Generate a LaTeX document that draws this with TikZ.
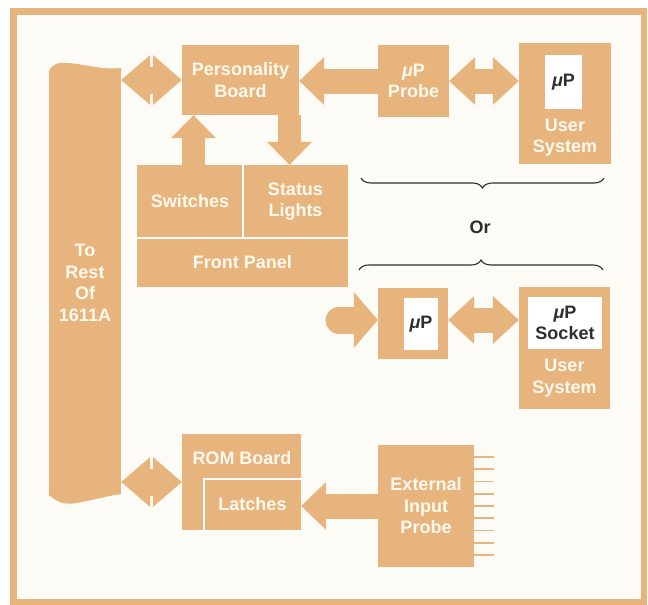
\documentclass[tikz,border=0pt]{standalone}
\usepackage{fontspec}
\setmainfont{Liberation Sans}
\usepackage{tikz}
\usetikzlibrary{arrows.meta}
\usetikzlibrary{decorations.pathreplacing}

\definecolor{boardtan}{RGB}{232,180,126}
\definecolor{paper}{RGB}{253,251,245}
\definecolor{labelwhite}{RGB}{255,249,238}
\definecolor{ink}{RGB}{46,46,46}

\begin{document}
\begin{tikzpicture}[
            x=1pt, y=-1pt,
            block/.style={
                fill=boardtan,
                text=labelwhite,
                font=\bfseries\fontsize{18}{21.5}\selectfont,
                align=center,
                inner sep=0pt
            },
            chip/.style={
                fill=white,
                text=ink,
                font=\bfseries\fontsize{18}{21.5}\selectfont,
                align=center,
                inner sep=0pt
            },
            caption/.style={
                text=labelwhite,
                font=\bfseries\fontsize{18}{21.5}\selectfont,
                align=center,
                inner sep=0pt
            },
            divider/.style={draw=white, line width=2pt},
            leadwire/.style={draw=boardtan, line width=1.8pt},
            fat/.style={draw=boardtan, line width=25pt},
            onehead/.style={fat, -{Triangle[width=48pt, length=25pt, line width=0pt]}},
            twohead/.style={fat, {Triangle[width=48pt, length=26pt, line width=0pt]}-{Triangle[width=48pt, length=26pt, line width=0pt]}},
            bushead/.style={draw=boardtan, line width=27pt, {Triangle[width=50pt, length=29pt, line width=0pt]}-{Triangle[width=50pt, length=29pt, line width=0pt]}},
            panelhead/.style={draw=boardtan, line width=23pt, -{Triangle[width=45pt, length=23pt, line width=0pt]}},
            feedhead/.style={draw=boardtan, line width=27pt, line cap=round, -{Triangle[width=56pt, length=24pt, line width=0pt]}},
            orbrace/.style={draw=ink, line width=1.1pt, decorate, decoration={brace, amplitude=10pt}}
        ]

        \useasboundingbox[fill=white] (0,0) rectangle (648,605);
        \filldraw[fill=paper, draw=boardtan, line width=6.5pt] (13.5,11.5) rectangle (644,602.5);

        \node[block, minimum width=72pt, minimum height=422pt] (bus) at (85,283) {To\\Rest\\Of\\1611A};
        \fill[boardtan] (bus.north west) .. controls (52,64) and (58,62) .. (68,63)
            .. controls (85,64) and (100,70) .. (121,68) -- (bus.north east) -- cycle;
        \fill[boardtan] (bus.south west) -- (49,495) .. controls (58,503) and (66,505) .. (76,503)
            .. controls (95,500) and (110,495) .. (bus.south east) -- cycle;

        \node[block, minimum width=117pt, minimum height=70pt] (pb) at (240.5,80) {Personality\\Board};
        \node[block, minimum width=71pt, minimum height=72pt] (probe) at (413.5,81) {{\itshape μ}P\\Probe};

        \node[block, minimum width=92pt, minimum height=121pt] (us1) at (565,103.5) {};
        \node[chip, minimum width=37pt, minimum height=54pt] (us1chip) at (563.5,82) {{\itshape μ}P};
        \node[caption] (us1label) at (565,137.5) {User\\System};

        \node[block, minimum width=106pt, minimum height=73pt] (sw) at (190,201.5) {Switches};
        \node[block, minimum width=105pt, minimum height=73pt] (st) at (295.5,201.5) {Status\\Lights};
        \node[block, minimum width=211pt, minimum height=49pt] (fpl) at (242.5,262.5) {Front Panel};
        \draw[divider] (sw.north east) -- (sw.south east);
        \draw[divider] (fpl.north west) -- (fpl.north east);

        \draw[orbrace] (604,178) -- (361,178);
        \node[text=ink, font=\bfseries\fontsize{18}{21.5}\selectfont] (or) at (480,227) {Or};
        \draw[orbrace] (359,270) -- (603,270);

        \node[block, minimum width=70pt, minimum height=71pt] (lowmp) at (413,323.5) {};
        \node[chip, minimum width=34pt, minimum height=52pt] (lowchip) at (421,324) {{\itshape μ}P};
        \node[block, minimum width=91pt, minimum height=122pt] (us2) at (564.5,348) {};
        \node[chip, minimum width=74pt, minimum height=52pt] (us2chip) at (565,323) {{\itshape μ}P\\Socket};
        \node[caption] (us2label) at (564.5,378) {User\\System};
        \coordinate (feed) at (339,320);

        \node[block, minimum width=119pt, minimum height=96pt] (rom) at (241.5,482) {};
        \node[caption] (romlabel) at (242,458) {ROM Board};
        \node[block, minimum width=97pt, minimum height=51pt] (latches) at (252.5,504.5) {Latches};
        \draw[divider] (latches.south west) -- (latches.north west) -- (latches.north east);

        \node[block, minimum width=96pt, minimum height=122pt] (eip) at (426,506) {External\\Input\\Probe};
        \foreach \k [evaluate=\k as \piny using 457+12.25*\k] in {0,...,8}
            \draw[leadwire] (eip.east |- 0,\piny) -- ++(20,0);

        \draw[bushead] (pb.west -| bus.east) -- (pb.west);
        \draw[onehead] (probe.west) -- (probe.west -| pb.east);
        \draw[twohead] (probe.east) -- (probe.east -| us1.west);
        \draw[panelhead] ([xshift=3.5pt]sw.north) -- ([xshift=3.5pt]sw.north |- pb.south);
        \draw[panelhead] ([xshift=-6pt]st.north |- pb.south) -- ([xshift=-6pt]st.north);
        \draw[feedhead] (feed) -- (feed -| lowmp.west);
        \draw[twohead] (feed -| lowmp.east) -- (feed -| us2.west);
        \draw[bushead] (rom.west -| bus.east) -- (rom.west);
        \draw[onehead] (eip.west) -- (eip.west -| latches.east);

    \end{tikzpicture}
\end{document}
